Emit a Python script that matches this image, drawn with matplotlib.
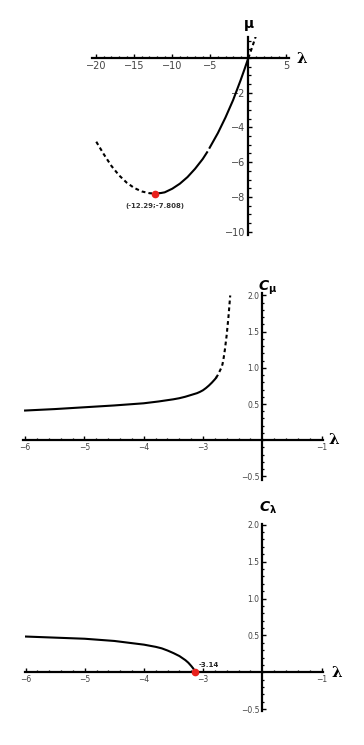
import matplotlib
matplotlib.use("Agg")
import matplotlib.pyplot as plt
from matplotlib.ticker import MultipleLocator, FixedLocator, FixedFormatter

# ---- data: panel 1 (mu vs lambda) ----
lam1_dash_left = [-20, -19, -18, -17, -16, -15, -14, -13, -12.29]
mu1_dash_left = [-4.82, -5.55, -6.22, -6.76, -7.18, -7.49, -7.69, -7.79, -7.808]
lam1_solid_a = [-12.29, -11.5, -11, -10, -9, -8, -7, -6, -5.35]
mu1_solid_a = [-7.808, -7.78, -7.74, -7.53, -7.24, -6.86, -6.38, -5.82, -5.38]
lam1_solid_b = [-5.15, -4, -3, -2, -1, -0.5, 0]
mu1_solid_b = [-5.22, -4.32, -3.42, -2.42, -1.26, -0.64, 0]
lam1_dash_right = [0, 0.5, 1.0]
mu1_dash_right = [0, 0.62, 1.28]
min_pt = (-12.29, -7.808)

# ---- data: panel 2 (C_mu vs lambda) ----
lam2_solid = [-6, -5.5, -5, -4.5, -4, -3.75, -3.5, -3.4, -3.3, -3.2, -3.1, -3.05, -3,
              -2.95, -2.9, -2.85, -2.8, -2.78]
cmu_solid = [0.41, 0.43, 0.455, 0.48, 0.51, 0.535, 0.565, 0.58, 0.60, 0.625, 0.65, 0.668, 0.69,
             0.72, 0.755, 0.795, 0.84, 0.86]
lam2_dash = [-2.78, -2.75, -2.72, -2.69, -2.67, -2.65, -2.63, -2.6, -2.57, -2.54]
cmu_dash = [0.86, 0.9, 0.95, 1.0, 1.05, 1.14, 1.25, 1.45, 1.7, 2.0]

# ---- data: panel 3 (C_lambda vs lambda) ----
lam3 = [-6, -5.5, -5, -4.5, -4.2, -4, -3.8, -3.7, -3.6, -3.5, -3.4, -3.3, -3.25, -3.2, -3.17, -3.15, -3.14]
clam = [0.485, 0.47, 0.455, 0.425, 0.395, 0.375, 0.345, 0.325, 0.295, 0.26, 0.22, 0.165, 0.13, 0.085,
        0.055, 0.03, 0.0]
crit_pt = (-3.14, 0.0)

W, H = 364, 745
fig = plt.figure(figsize=(W / 100, H / 100), dpi=100)

def add_axes_px(left, top, right, bottom):
    return fig.add_axes([left / W, 1 - bottom / H, (right - left) / W, (bottom - top) / H])

def style(ax, yzero_x, maj_len=3.0, min_len=1.6, fs=7):
    for s in ['top', 'right']:
        ax.spines[s].set_visible(False)
    ax.spines['left'].set_position(('data', yzero_x))
    ax.spines['bottom'].set_position(('data', 0))
    for s in ['left', 'bottom']:
        ax.spines[s].set_linewidth(1.6)
        ax.spines[s].set_color('black')
        ax.spines[s].set_zorder(1)
    ax.tick_params(which='major', direction='in', length=maj_len, width=1.0,
                   labelsize=fs, labelcolor='#444444', pad=2)
    ax.tick_params(which='minor', direction='in', length=min_len, width=0.9)
    ax.patch.set_visible(False)

LW = 1.5
DASH = (1.8, 1.5)

# ---------- Panel 1 ----------
ax1 = add_axes_px(91.7, 37.3, 288.6, 235.0)
ax1.set_xlim(-20.6, 5.3)
ax1.set_ylim(-10.2, 1.2)
style(ax1, 0, maj_len=3.2, min_len=1.8, fs=7)
ax1.xaxis.set_major_locator(FixedLocator([-20, -15, -10, -5, 5]))
ax1.xaxis.set_minor_locator(MultipleLocator(1))
ax1.yaxis.set_major_locator(FixedLocator([-10, -8, -6, -4, -2]))
ax1.yaxis.set_minor_locator(MultipleLocator(0.5))
ax1.plot(lam1_dash_left, mu1_dash_left, color='black', lw=LW, ls=(0, DASH), zorder=3)
ax1.plot(lam1_solid_a, mu1_solid_a, color='black', lw=LW, zorder=3, solid_capstyle='butt')
ax1.plot(lam1_solid_b, mu1_solid_b, color='black', lw=LW, zorder=3, solid_capstyle='butt')
ax1.plot(lam1_dash_right, mu1_dash_right, color='black', lw=LW, ls=(0, DASH), zorder=3)
ax1.plot([min_pt[0]], [min_pt[1]], 'o', color='#e8201c', ms=4.5, zorder=4)
ax1.annotate('(-12.29;-7.808)', xy=min_pt, xytext=(0, -9), textcoords='offset points',
             ha='center', va='center', fontsize=5, color='#333333', fontweight='bold')
fig.text(301.7 / W, 1 - 59.0 / H, 'λ', fontsize=11, fontweight='bold', ha='center', va='center',
         family='DejaVu Serif')
fig.text(248.5 / W, 1 - 24.0 / H, 'μ', fontsize=10, fontweight='bold', ha='center', va='center',
         family='DejaVu Sans')

# ---------- Panel 2 ----------
ax2 = add_axes_px(23.3, 293.3, 322.7, 480.0)
ax2.set_xlim(-6.03, -0.98)
ax2.set_ylim(-0.55, 2.03)
style(ax2, -2, maj_len=2.6, min_len=1.5, fs=5.5)
ax2.xaxis.set_major_locator(FixedLocator([-6, -5, -4, -3, -1]))
ax2.xaxis.set_major_formatter(FixedFormatter(['−6', '−5', '−4', '−3', '−1']))
ax2.xaxis.set_minor_locator(MultipleLocator(0.2))
ax2.yaxis.set_major_locator(FixedLocator([-0.5, 0.5, 1.0, 1.5, 2.0]))
ax2.yaxis.set_major_formatter(FixedFormatter(['−0.5', '0.5', '1.0', '1.5', '2.0']))
ax2.yaxis.set_minor_locator(MultipleLocator(0.1))
ax2.plot(lam2_solid, cmu_solid, color='black', lw=LW, zorder=3)
ax2.plot(lam2_dash, cmu_dash, color='black', lw=LW, ls=(0, DASH), zorder=3)
fig.text(334.3 / W, 1 - 440.0 / H, 'λ', fontsize=11, fontweight='bold', ha='center', va='center',
         family='DejaVu Serif')
fig.text(268.0 / W, 1 - 288.0 / H, r'$\boldsymbol{C}_{\mathbf{\mu}}$', fontsize=10,
         ha='center', va='center')

# ---------- Panel 3 ----------
ax3 = add_axes_px(25.0, 524.0, 322.7, 710.7)
ax3.set_xlim(-6.01, -0.98)
ax3.set_ylim(-0.52, 2.01)
style(ax3, -2, maj_len=2.6, min_len=1.5, fs=5.5)
ax3.xaxis.set_major_locator(FixedLocator([-6, -5, -4, -3, -1]))
ax3.xaxis.set_major_formatter(FixedFormatter(['−6', '−5', '−4', '−3', '−1']))
ax3.xaxis.set_minor_locator(MultipleLocator(0.2))
ax3.yaxis.set_major_locator(FixedLocator([-0.5, 0.5, 1.0, 1.5, 2.0]))
ax3.yaxis.set_major_formatter(FixedFormatter(['−0.5', '0.5', '1.0', '1.5', '2.0']))
ax3.yaxis.set_minor_locator(MultipleLocator(0.1))
ax3.plot(lam3, clam, color='black', lw=LW, zorder=3)
ax3.plot([crit_pt[0]], [crit_pt[1]], 'o', color='#e8201c', ms=4.5, zorder=4, clip_on=False)
ax3.annotate('-3.14', xy=crit_pt, xytext=(3, 5.5), textcoords='offset points',
             ha='left', va='center', fontsize=5, color='#222222', fontweight='bold')
fig.text(337.3 / W, 1 - 673.0 / H, 'λ', fontsize=11, fontweight='bold', ha='center', va='center',
         family='DejaVu Serif')
fig.text(268.0 / W, 1 - 508.0 / H, r'$\boldsymbol{C}_{\mathbf{\lambda}}$', fontsize=10,
         ha='center', va='center')

fig.savefig('out.png', dpi=100, facecolor='white')
